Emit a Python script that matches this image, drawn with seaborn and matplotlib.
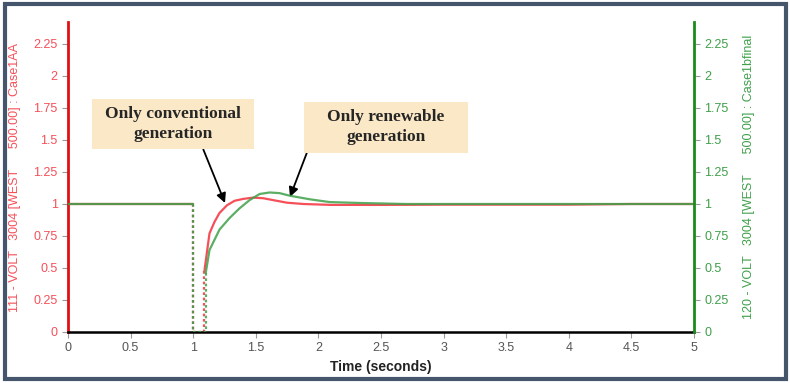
import numpy as np
import pandas as pd
import matplotlib
matplotlib.use("Agg")
import matplotlib.pyplot as plt
import seaborn as sns
from matplotlib.patches import Rectangle
from matplotlib.path import Path

# ---- data ----
t_conv = [0.0, 1.0, 1.0, 1.09, 1.09, 1.13, 1.17, 1.21, 1.27, 1.33, 1.40, 1.48, 1.56, 1.64, 1.75, 1.88, 2.1, 2.5, 3.0, 3.5, 4.0, 4.5, 5.0]
v_conv = [1.0, 1.0, 0.0, 0.0, 0.48, 0.77, 0.86, 0.93, 0.99, 1.025, 1.04, 1.05, 1.045, 1.03, 1.01, 1.0, 0.993, 0.993, 0.995, 0.995, 0.995, 1.0, 1.0]
t_ren = [0.0, 1.0, 1.0, 1.1, 1.1, 1.13, 1.21, 1.29, 1.37, 1.45, 1.53, 1.61, 1.69, 1.77, 1.93, 2.09, 2.33, 2.7, 3.0, 3.5, 4.0, 4.5, 5.0]
v_ren = [1.0, 1.0, 0.0, 0.0, 0.46, 0.64, 0.80, 0.89, 0.966, 1.03, 1.078, 1.09, 1.085, 1.065, 1.037, 1.015, 1.008, 1.0, 1.0, 1.0, 1.0, 1.0, 1.0]
x_ticks = [0, 0.5, 1, 1.5, 2, 2.5, 3, 3.5, 4, 4.5, 5]
x_labels = ["0", "0.5", "1", "1.5", "2", "2.5", "3", "3.5", "4", "4.5", "5"]
y_ticks = [0, 0.25, 0.5, 0.75, 1, 1.25, 1.5, 1.75, 2, 2.25]
y_labels = ["0", "0.25", "0.5", "0.75", "1", "1.25", "1.5", "1.75", "2", "2.25"]
left_label = "111 - VOLT   3004 [WEST      500.00] : Case1AA"
right_label = "120 - VOLT   3004 [WEST      500.00] : Case1bfinal"
x_label = "Time (seconds)"
ann_conv = "Only conventional\ngeneration"
ann_ren = "Only renewable\ngeneration"


def segmented(t, v):
    # split a trace into pre-fault, fault (dotted) and recovery parts
    pre = pd.DataFrame({"t": t[0:2], "v": v[0:2], "seg": "pre"})
    flt = pd.DataFrame({"t": t[1:5], "v": v[1:5], "seg": "fault"})
    post = pd.DataFrame({"t": t[4:], "v": v[4:], "seg": "post"})
    return pd.concat([pre, flt, post], ignore_index=True)


df_conv = segmented(t_conv, v_conv)
df_ren = segmented(t_ren, v_ren)

sns.set_theme(style="white")
plt.rcParams["font.family"] = ["Liberation Sans", "DejaVu Sans"]

RED = "#f5505a"
RED_SP = "#e01010"
GREEN = "#3fa04a"
GREEN_SP = "#1e8a1e"
dash_map = {"pre": "", "fault": (1.2, 1.2), "post": ""}

fig = plt.figure(figsize=(7.9, 3.83), dpi=100)
ax = fig.add_axes([68/790, 1-332/383, (694-68)/790, (332-22)/383])
ax2 = ax.twinx()

sns.lineplot(data=df_conv, x="t", y="v", style="seg", dashes=dash_map, units="seg", ax=ax,
             color=RED, linewidth=1.6, estimator=None, sort=False, legend=False)
sns.lineplot(data=df_ren, x="t", y="v", style="seg", dashes=dash_map, units="seg", ax=ax2,
             color=GREEN, linewidth=1.6, estimator=None, sort=False, alpha=0.85, legend=False)

ylim = (0, (332-22)/128)
for a in (ax, ax2):
    a.set_xlim(0, 5)
    a.set_ylim(*ylim)
    a.set_yticks(y_ticks)
    a.set_yticklabels(y_labels)
    a.spines["top"].set_visible(False)
    a.grid(False)

ax.set_xticks(x_ticks)
ax.set_xticklabels(x_labels)
ax.spines["left"].set_color(RED_SP)
ax.spines["left"].set_linewidth(2)
ax.spines["right"].set_visible(False)
ax.spines["bottom"].set_color("black")
ax.spines["bottom"].set_linewidth(1.8)
ax2.spines["right"].set_color(GREEN_SP)
ax2.spines["right"].set_linewidth(2)
ax2.spines["left"].set_visible(False)
ax2.spines["bottom"].set_visible(False)

ax.tick_params(axis="y", colors="#999999", labelcolor=RED, labelsize=9, length=4, width=0.8, direction="out", left=True)
ax.tick_params(axis="x", colors="#999999", labelcolor="#555555", labelsize=9, length=4, width=0.8, direction="out", bottom=True)
ax2.tick_params(axis="y", colors="#999999", labelcolor=GREEN, labelsize=9, length=4, width=0.8, direction="out", right=True)

ax.set_ylabel(left_label, color=RED, fontsize=9)
ax2.set_ylabel(right_label, color=GREEN, fontsize=9, rotation=90)
ax.yaxis.set_label_coords(-0.075, 0.5)
ax2.yaxis.set_label_coords(1.078, 0.5)
ax.set_xlabel(x_label, fontsize=10, fontweight="bold", color="#222222", labelpad=4)


def padded_box(padx, pady):
    def style(x0, y0, width, height, mutation_size):
        px, py = padx * mutation_size, pady * mutation_size
        x0, y0 = x0 - px, y0 - py
        x1, y1 = x0 + width + 2 * px, y0 + height + 2 * py
        return Path([(x0, y0), (x1, y0), (x1, y1), (x0, y1), (x0, y0)], closed=True)
    return style


FILL = "#fbe8c6"
ax.annotate(ann_conv, xy=(1.254, 1.008), xytext=(0.84, 1.625), textcoords="data",
            ha="center", va="center", fontsize=12.5, fontweight="bold", linespacing=1.35,
            family=["Liberation Serif", "DejaVu Serif"],
            bbox=dict(boxstyle=padded_box(0.75, 0.42), fc=FILL, ec="none"),
            arrowprops=dict(arrowstyle="-|>", color="black", lw=1.3, mutation_scale=14,
                            shrinkA=0, shrinkB=0, relpos=(0.70, 0.0)))
ax.annotate(ann_ren, xy=(1.773, 1.055), xytext=(2.54, 1.60), textcoords="data",
            ha="center", va="center", fontsize=12.5, fontweight="bold", linespacing=1.35,
            family=["Liberation Serif", "DejaVu Serif"],
            bbox=dict(boxstyle=padded_box(1.35, 0.42), fc=FILL, ec="none"),
            arrowprops=dict(arrowstyle="-|>", color="black", lw=1.3, mutation_scale=14,
                            shrinkA=0, shrinkB=0, relpos=(-0.15, 0.0)))

fig.patches.append(Rectangle((5/790, 4/383), 781/790, 375/383, transform=fig.transFigure,
                             fill=False, ec="#45556b", lw=3, zorder=10))

fig.savefig("out.png", dpi=100)
